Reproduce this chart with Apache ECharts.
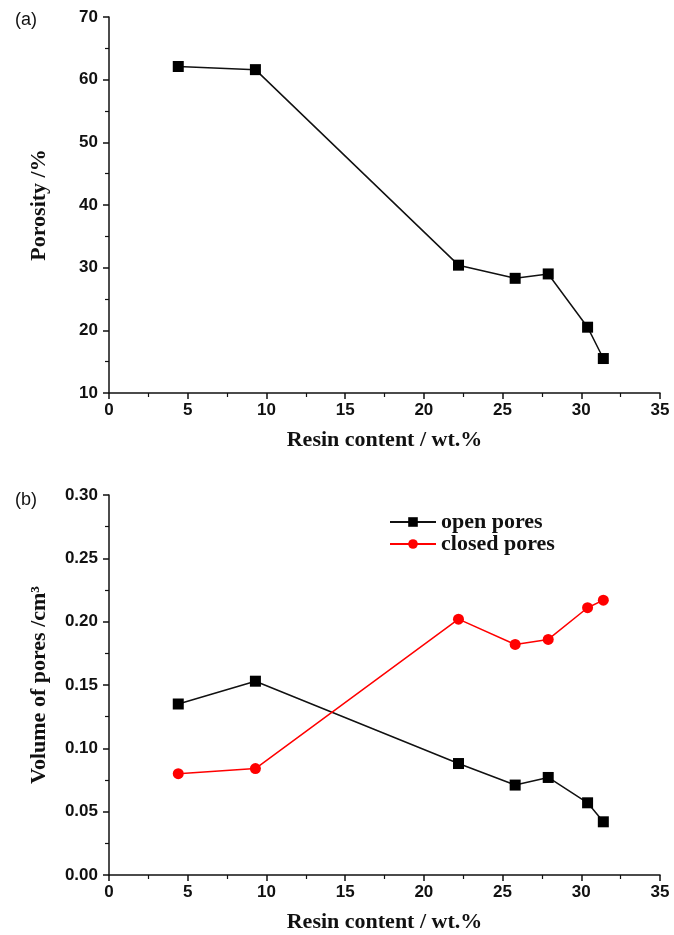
<!DOCTYPE html>
<html>
<head>
<meta charset="utf-8">
<script src="https://cdn.jsdelivr.net/npm/echarts@6/dist/echarts.min.js"></script>
<style>
  html, body { margin: 0; padding: 0; background: #fff; }
  #main { width: 674px; height: 935px; }
</style>
</head>
<body>
<div id="main"></div>
<script>
// resin content (wt.%) for each sample
var resin = [4.4, 9.3, 22.2, 25.8, 27.9, 30.4, 31.4];
// panel (a): porosity %
var porosity = [62.1, 61.6, 30.4, 28.3, 29.0, 20.5, 15.5];
// panel (b): pore volumes cm^3
var openPores = [0.135, 0.153, 0.088, 0.071, 0.077, 0.057, 0.042];
var closedPores = [0.080, 0.084, 0.202, 0.182, 0.186, 0.211, 0.217];

function pairs(xs, ys) {
  var out = [];
  for (var i = 0; i < xs.length; i++) out.push([xs[i], ys[i]]);
  return out;
}

var myChart = echarts.init(document.getElementById('main'));

var tickFont = { color: '#111', fontWeight: 'bold', fontSize: 17, fontFamily: 'Liberation Sans, Arial, sans-serif' };
var nameFont = { color: '#111', fontWeight: 'bold', fontSize: 22, fontFamily: 'Liberation Serif, Times New Roman, serif' };
var axisLine = { show: true, onZero: false, lineStyle: { color: '#111', width: 1.5 } };
var majorTick = { show: true, length: 6, lineStyle: { color: '#111', width: 1.5 } };
var minorTick = { show: true, splitNumber: 2, length: 4, lineStyle: { color: '#111', width: 1.2 } };

function xAxisCfg(gridIndex) {
  return {
    type: 'value', gridIndex: gridIndex, min: 0, max: 35, interval: 5,
    name: 'Resin content / wt.%', nameLocation: 'middle', nameGap: 36,
    nameTextStyle: nameFont,
    axisLine: axisLine,
    axisTick: majorTick,
    minorTick: minorTick,
    axisLabel: Object.assign({ margin: 9 }, tickFont),
    splitLine: { show: false }
  };
}

var option = {
  animation: false,
  backgroundColor: '#fff',
  title: [
    { text: '(a)', left: 10, top: 6, textStyle: { fontSize: 18, fontWeight: 'normal', color: '#111', fontFamily: 'Liberation Sans, Arial, sans-serif' } },
    { text: '(b)', left: 10, top: 486, textStyle: { fontSize: 18, fontWeight: 'normal', color: '#111', fontFamily: 'Liberation Sans, Arial, sans-serif' } }
  ],
  grid: [
    { left: 109, right: 14, top: 17, height: 376 },
    { left: 109, right: 14, top: 495, height: 380 }
  ],
  legend: {
    left: 384, top: 506, orient: 'vertical', itemGap: 0,
    itemWidth: 46, itemHeight: 12,
    textStyle: { color: '#111', fontWeight: 'bold', fontSize: 22, lineHeight: 20, fontFamily: 'Liberation Serif, Times New Roman, serif' },
    data: ['open pores', 'closed pores']
  },
  xAxis: [xAxisCfg(0), xAxisCfg(1)],
  yAxis: [
    {
      type: 'value', gridIndex: 0, min: 10, max: 70, interval: 10,
      name: 'Porosity /%', nameLocation: 'middle', nameGap: 59,
      nameTextStyle: nameFont,
      axisLine: axisLine,
      axisTick: majorTick,
      minorTick: minorTick,
      axisLabel: Object.assign({ margin: 11 }, tickFont),
      splitLine: { show: false }
    },
    {
      type: 'value', gridIndex: 1, min: 0, max: 0.3, interval: 0.05,
      name: 'Volume of pores /cm³', nameLocation: 'middle', nameGap: 59,
      nameTextStyle: nameFont,
      axisLine: axisLine,
      axisTick: majorTick,
      minorTick: minorTick,
      axisLabel: Object.assign({ margin: 11, formatter: function (v) { return v.toFixed(2); } }, tickFont),
      splitLine: { show: false }
    }
  ],
  series: [
    {
      name: 'porosity', type: 'line', xAxisIndex: 0, yAxisIndex: 0,
      symbol: 'rect', symbolSize: 11,
      lineStyle: { color: '#111', width: 1.5 },
      itemStyle: { color: '#000' },
      data: pairs(resin, porosity)
    },
    {
      name: 'open pores', type: 'line', xAxisIndex: 1, yAxisIndex: 1,
      symbol: 'rect', symbolSize: 11,
      lineStyle: { color: '#111', width: 1.5 },
      itemStyle: { color: '#000' },
      data: pairs(resin, openPores)
    },
    {
      name: 'closed pores', type: 'line', xAxisIndex: 1, yAxisIndex: 1,
      symbol: 'circle', symbolSize: 11,
      lineStyle: { color: '#ff0000', width: 1.5 },
      itemStyle: { color: '#ff0000' },
      data: pairs(resin, closedPores)
    }
  ]
};

option && myChart.setOption(option);
</script>
</body>
</html>
